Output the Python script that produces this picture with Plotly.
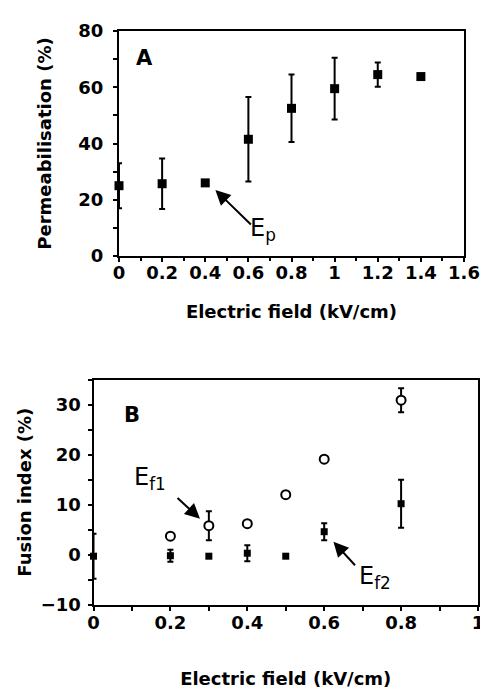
import plotly.graph_objects as go

# Panel A: permeabilisation
a_field = [0, 0.2, 0.4, 0.6, 0.8, 1.0, 1.2, 1.4]
a_perm = [25, 25.7, 26, 41.5, 52.5, 59.5, 64.5, 63.8]
a_err = [8, 9, 0, 15, 12, 11, 4.3, 0]

# Panel B: fusion index
b_sq_field = [0, 0.2, 0.3, 0.4, 0.5, 0.6, 0.8]
b_sq_fus = [-0.3, -0.2, -0.3, 0.3, -0.3, 4.6, 10.2]
b_sq_err = [4.5, 1.2, 0, 1.6, 0, 1.7, 4.8]

b_ci_field = [0.2, 0.3, 0.4, 0.5, 0.6, 0.8]
b_ci_fus = [3.7, 5.8, 6.2, 12.0, 19.1, 30.9]
b_ci_err = [0, 2.9, 0, 0, 0, 2.4]

FONT = "DejaVu Sans, Liberation Sans, Arial, sans-serif"
W, H = 488, 691

fig = go.Figure()

err_style = dict(type="data", visible=True, color="black", thickness=2, width=3)


def with_err(xs, ys, es):
    keep = [(x, y, e) for x, y, e in zip(xs, ys, es) if e > 0]
    return [k[0] for k in keep], [k[1] for k in keep], [k[2] for k in keep]


def add_series(xs, ys, es, xa, ya, marker):
    ex, ey, ee = with_err(xs, ys, es)
    # error bars only (drawn first, under markers)
    fig.add_trace(go.Scatter(x=ex, y=ey, mode="markers", xaxis=xa, yaxis=ya,
                             marker=dict(size=1, color="rgba(0,0,0,0)"),
                             error_y=dict(array=ee, **err_style),
                             cliponaxis=False, showlegend=False, hoverinfo="skip"))
    fig.add_trace(go.Scatter(x=xs, y=ys, mode="markers", xaxis=xa, yaxis=ya,
                             marker=marker, cliponaxis=False, showlegend=False))


add_series(a_field, a_perm, a_err, "x", "y",
           dict(symbol="square", size=9, color="black"))
add_series(b_sq_field, b_sq_fus, b_sq_err, "x2", "y2",
           dict(symbol="square", size=7, color="black"))
add_series(b_ci_field, b_ci_fus, b_ci_err, "x2", "y2",
           dict(symbol="circle", size=9, color="white", line=dict(width=2, color="black")))

tickfont = dict(family=FONT, size=18, color="black", weight="bold")
titlefont = dict(family=FONT, size=18, color="black", weight="bold")

axis_common = dict(showline=True, linecolor="black", linewidth=2, mirror=True,
                   ticks="outside", ticklen=4, tickwidth=2, tickcolor="black",
                   showgrid=False, zeroline=False, tickfont=tickfont, automargin=False)

fig.update_layout(
    width=W, height=H, margin=dict(l=0, r=0, t=0, b=0),
    paper_bgcolor="white", plot_bgcolor="white",
    xaxis=dict(domain=[111/W, 456/W], range=[0, 1.6], anchor="y",
               tickvals=[0, 0.2, 0.4, 0.6, 0.8, 1.0, 1.2, 1.4, 1.6],
               ticktext=["0", "0.2", "0.4", "0.6", "0.8", "1", "1.2", "1.4", "1.6"],
               minor=dict(dtick=0.1, ticks="outside", ticklen=3, tickwidth=2, tickcolor="black"),
               ticklabelstandoff=-5,
               title=dict(text="Electric field (kV/cm)", font=titlefont, standoff=24),
               **axis_common),
    yaxis=dict(domain=[1-248/H, 1-23/H], range=[0, 80], anchor="x",
               dtick=20, ticklabelstandoff=6,
               minor=dict(dtick=10, ticks="outside", ticklen=4, tickwidth=2, tickcolor="black"),
               title=dict(text="Permeabilisation (%)", font=titlefont, standoff=22),
               **axis_common),
    xaxis2=dict(domain=[85.5/W, 470/W], range=[0, 1], anchor="y2",
                tickvals=[0, 0.2, 0.4, 0.6, 0.8, 1.0],
                ticktext=["0", "0.2", "0.4", "0.6", "0.8", "1"],
                minor=dict(dtick=0.1, ticks="outside", ticklen=4, tickwidth=2, tickcolor="black"),
                ticklabelstandoff=-3,
                title=dict(text="Electric field (kV/cm)", font=titlefont, standoff=40),
                **axis_common),
    yaxis2=dict(domain=[1-596.7/H, 1-371.7/H], range=[-10, 35], anchor="x2",
                tickvals=[-10, 0, 10, 20, 30], ticklabelstandoff=3,
                minor=dict(dtick=5, ticks="outside", ticklen=4, tickwidth=2, tickcolor="black"),
                title=dict(text="Fusion index (%)", font=titlefont, standoff=4),
                **axis_common),
)

arrow = dict(showarrow=True, arrowhead=2, arrowsize=1.5, arrowwidth=2,
             arrowcolor="black", text="", axref="pixel", ayref="pixel")
efont = dict(family=FONT, size=24, color="black")
lfont = dict(family=FONT, size=21, color="black", weight="bold")

annotations = [
    dict(x=0.12, y=70.5, xref="x", yref="y", text="A", showarrow=False, font=lfont),
    dict(x=0.447, y=23.5, xref="x", yref="y", ax=37, ay=36, **arrow),
    dict(x=0.668, y=9.3, xref="x", yref="y", text="E<sub>p</sub>", showarrow=False, font=efont),
    dict(x=0.1, y=27.9, xref="x2", yref="y2", text="B", showarrow=False, font=lfont),
    dict(x=0.277, y=7.2, xref="x2", yref="y2", ax=-24, ay=-22, **arrow),
    dict(x=0.148, y=15.3, xref="x2", yref="y2", text="E<sub>f1</sub>", showarrow=False, font=efont),
    dict(x=0.624, y=2.6, xref="x2", yref="y2", ax=23, ay=25, **arrow),
    dict(x=0.731, y=-4.6, xref="x2", yref="y2", text="E<sub>f2</sub>", showarrow=False, font=efont),
]
fig.update_layout(annotations=annotations)

fig.write_html("out.html")
